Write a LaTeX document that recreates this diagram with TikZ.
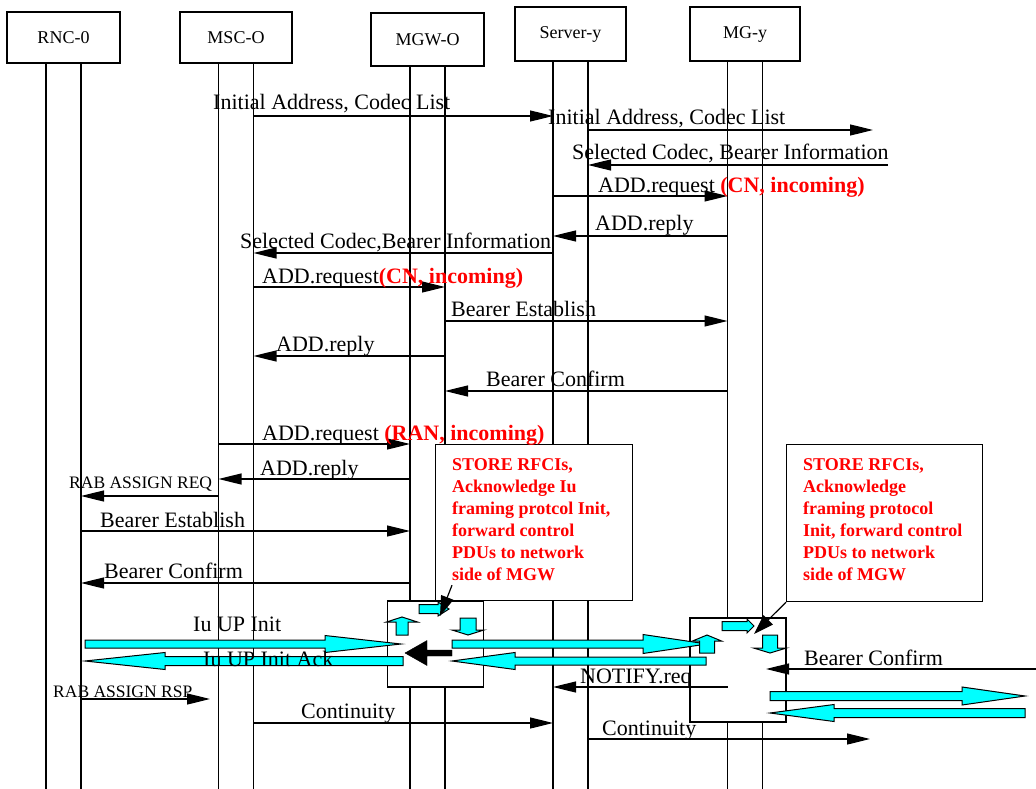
\documentclass[tikz,border=0pt]{standalone}
\usepackage{fontspec}
\setmainfont{Liberation Serif}
\usetikzlibrary{positioning,arrows.meta,calc}
\definecolor{hotred}{RGB}{255,0,0}
\definecolor{aqua}{RGB}{0,255,255}
\tikzset{
  hdr/.style={draw,line width=1.2pt,fill=white,inner sep=0pt,font=\fontsize{18}{20}\selectfont},
  life/.style={line width=1.2pt},
  msg/.style={line width=1.2pt,-{Triangle[length=23pt,width=11pt]}},
  ptr/.style={line width=1.2pt,-{Triangle[length=20pt,width=13pt]}},
  lbl/.style={anchor=base west,inner sep=0pt,font=\fontsize{22}{26}\selectfont},
  small/.style={anchor=base west,inner sep=0pt,font=\fontsize{17.5}{20}\selectfont},
  box/.style={draw,line width=1.2pt,fill=white,inner sep=0pt},
  note/.style={box,anchor=north west},
  notetxt/.style={anchor=north west,inner sep=0pt,align=left,text=hotred,font=\fontsize{18}{22}\selectfont\bfseries},
  fat/.style={fill=aqua,draw=black,line width=1pt}
}
% horizontal fat arrow: [style] tail, head base, tip, y, half shaft, half head
\newcommand{\hfat}[7][fat]{\filldraw[#1] (#2,#5-#6) -- (#3,#5-#6) -- (#3,#5-#7) -- (#4,#5) -- (#3,#5+#7) -- (#3,#5+#6) -- (#2,#5+#6) -- cycle;}
% vertical fat arrow: [style] tail, head base, tip, x, half shaft, half head
\newcommand{\vfat}[7][fat]{\filldraw[#1] (#5-#6,#2) -- (#5-#6,#3) -- (#5-#7,#3) -- (#5,#4) -- (#5+#7,#3) -- (#5+#6,#3) -- (#5+#6,#2) -- cycle;}
\begin{document}
\begin{tikzpicture}[x=1pt,y=-1pt]
  \useasboundingbox (0,0) rectangle (1036,789);
  % entities
  \node[hdr,minimum width=113,minimum height=51] (rnc) at (63.5,37.5) {RNC-0};
  \node[hdr,minimum width=112,minimum height=51] (msc) at (236,37.5) {MSC-O};
  \node[hdr,minimum width=113,minimum height=53] (mgw) at (427.5,39.5) {MGW-O};
  \node[hdr,minimum width=111,minimum height=54] (srv) at (570.5,34) {Server-y};
  \node[hdr,minimum width=110,minimum height=54] (mg) at (745,34) {MG-y};
  \foreach \n in {rnc,msc,mgw,srv,mg}{
    \coordinate (\n1) at ($(\n.south)+(-17.5,0)$);
    \coordinate (\n2) at ($(\n.south)+(17.5,0)$);
    \draw[life] (\n1) -- (\n1 |- 0,789);
    \draw[life] (\n2) -- (\n2 |- 0,789);
  }
  \node[lbl] (m20) at (580,683) {NOTIFY.req};
  % boxes over the lifelines
  \node[box,minimum width=96,minimum height=86] (mgwbox) at (435.5,644) {};
  \node[box,minimum width=96,minimum height=104] (mgbox) at (738,670) {};
  \node[note,minimum width=197,minimum height=156] (note1) at (435,444) {};
  \node[notetxt] (txt1) at (452,458) {STORE RFCIs,\\Acknowledge Iu\\framing protcol Init,\\forward control\\PDUs to network\\side of MGW};
  \node[note,minimum width=196,minimum height=157] (note2) at (786,444) {};
  \node[notetxt] (txt2) at (803,458) {STORE RFCIs,\\Acknowledge\\framing protocol\\Init, forward control\\PDUs to network\\side of MGW};
  % messages
  \draw[msg] (msc2 |- 0,116) -- (srv1 |- 0,116);
  \node[lbl] (m1) at (213,110) {Initial Address, Codec List};
  \coordinate (out1) at (873,130);
  \draw[msg] (srv2 |- out1) -- (out1);
  \node[lbl] (m2) at (548,125) {Initial Address, Codec List};
  \coordinate (in1) at (888,165);
  \draw[msg] (in1) -- (srv2 |- in1);
  \node[lbl] (m3) at (572,160) {Selected Codec, Bearer Information};
  \draw[msg] (srv1 |- 0,196) -- (mg1 |- 0,196);
  \node[lbl] (m4) at (598,192) {ADD.request \textcolor{hotred}{\bfseries(CN, incoming)}};
  \draw[msg] (mg1 |- 0,236) -- (srv1 |- 0,236);
  \node[lbl] (m5) at (595,230) {ADD.reply};
  \draw[msg] (srv1 |- 0,253) -- (msc2 |- 0,253);
  \node[lbl] (m6) at (240,248) {Selected Codec,Bearer Information};
  \draw[msg] (msc2 |- 0,287) -- (mgw2 |- 0,287);
  \node[lbl] (m7) at (262,283) {ADD.request\textcolor{hotred}{\bfseries(CN, incoming)}};
  \draw[msg] (mgw2 |- 0,321) -- (mg1 |- 0,321);
  \node[lbl] (m8) at (451,316) {Bearer Establish};
  \draw[msg] (mgw2 |- 0,356) -- (msc2 |- 0,356);
  \node[lbl] (m9) at (276,351) {ADD.reply};
  \draw[msg] (mg1 |- 0,391) -- (mgw2 |- 0,391);
  \node[lbl] (m10) at (486,386) {Bearer Confirm};
  \draw[msg] (msc1 |- 0,444) -- (mgw1 |- 0,444);
  \node[lbl] (m11) at (262,440) {ADD.request \textcolor{hotred}{\bfseries(RAN, incoming)}};
  \draw[msg] (mgw1 |- 0,479) -- (msc1 |- 0,479);
  \node[lbl] (m12) at (260,475) {ADD.reply};
  \draw[msg] (msc1 |- 0,496) -- (rnc2 |- 0,496);
  \node[small] (m13) at (69,488) {RAB ASSIGN REQ};
  \draw[msg] (rnc2 |- 0,531) -- (mgw1 |- 0,531);
  \node[lbl] (m14) at (100,527) {Bearer Establish};
  \draw[msg] (mgw1 |- 0,583) -- (rnc2 |- 0,583);
  \node[lbl] (m15) at (104,578) {Bearer Confirm};
  \coordinate (rsp) at (210,699);
  \draw[msg] (rnc2 |- rsp) -- (rsp);
  \node[small] (m18) at (53,697) {RAB ASSIGN RSP};
  \draw[msg] (msc2 |- 0,723) -- (srv1 |- 0,723);
  \node[lbl] (m19) at (301,718) {Continuity};
  \draw[msg] (mg1 |- 0,687) -- (srv1 |- 0,687);
  \coordinate (in2) at (1036,669);
  \coordinate (cfm) at (766,669);
  \draw[msg] (in2) -- (cfm);
  \node[lbl] (m21) at (804,665) {Bearer Confirm};
  \coordinate (out2) at (870,739);
  \draw[msg] (srv2 |- out2) -- (out2);
  \node[lbl] (m22) at (602,735) {Continuity};
  % user plane
  \hfat{85}{325}{401}{644}{4}{8.5}
  \node[lbl] (m16) at (193,631) {Iu UP Init};
  \hfat{403}{165}{85}{661}{4.5}{8.5}
  \node[lbl] (m17) at (203,666) {Iu UP Init Ack};
  \hfat{452}{643}{707}{644}{4}{9.5}
  \hfat{706}{515}{452}{661}{4}{8.5}
  \hfat{770}{962}{1025}{696}{4.5}{9}
  \hfat{1025}{834}{770}{713}{4.5}{8.5}
  \hfat[fill=black]{452}{427}{405}{653}{3}{12.5}
  \hfat{419}{438}{449}{609}{4.5}{7}
  \hfat{722}{747}{754}{626}{4.5}{7}
  \vfat{635}{622}{617}{402}{6}{15.5}
  \vfat{618}{630}{635}{468}{8}{16}
  \vfat{653}{641}{635}{707}{7.5}{14.5}
  \vfat{635}{648}{653}{770}{7.5}{16.5}
  % callout pointers
  \coordinate (tip1) at (440,616);
  \draw[ptr] ($(note1.south west)+(17,-16)$) -- (tip1);
  \coordinate (tip2) at (754,634);
  \draw[ptr] (note2.south west) -- (tip2);
\end{tikzpicture}
\end{document}
